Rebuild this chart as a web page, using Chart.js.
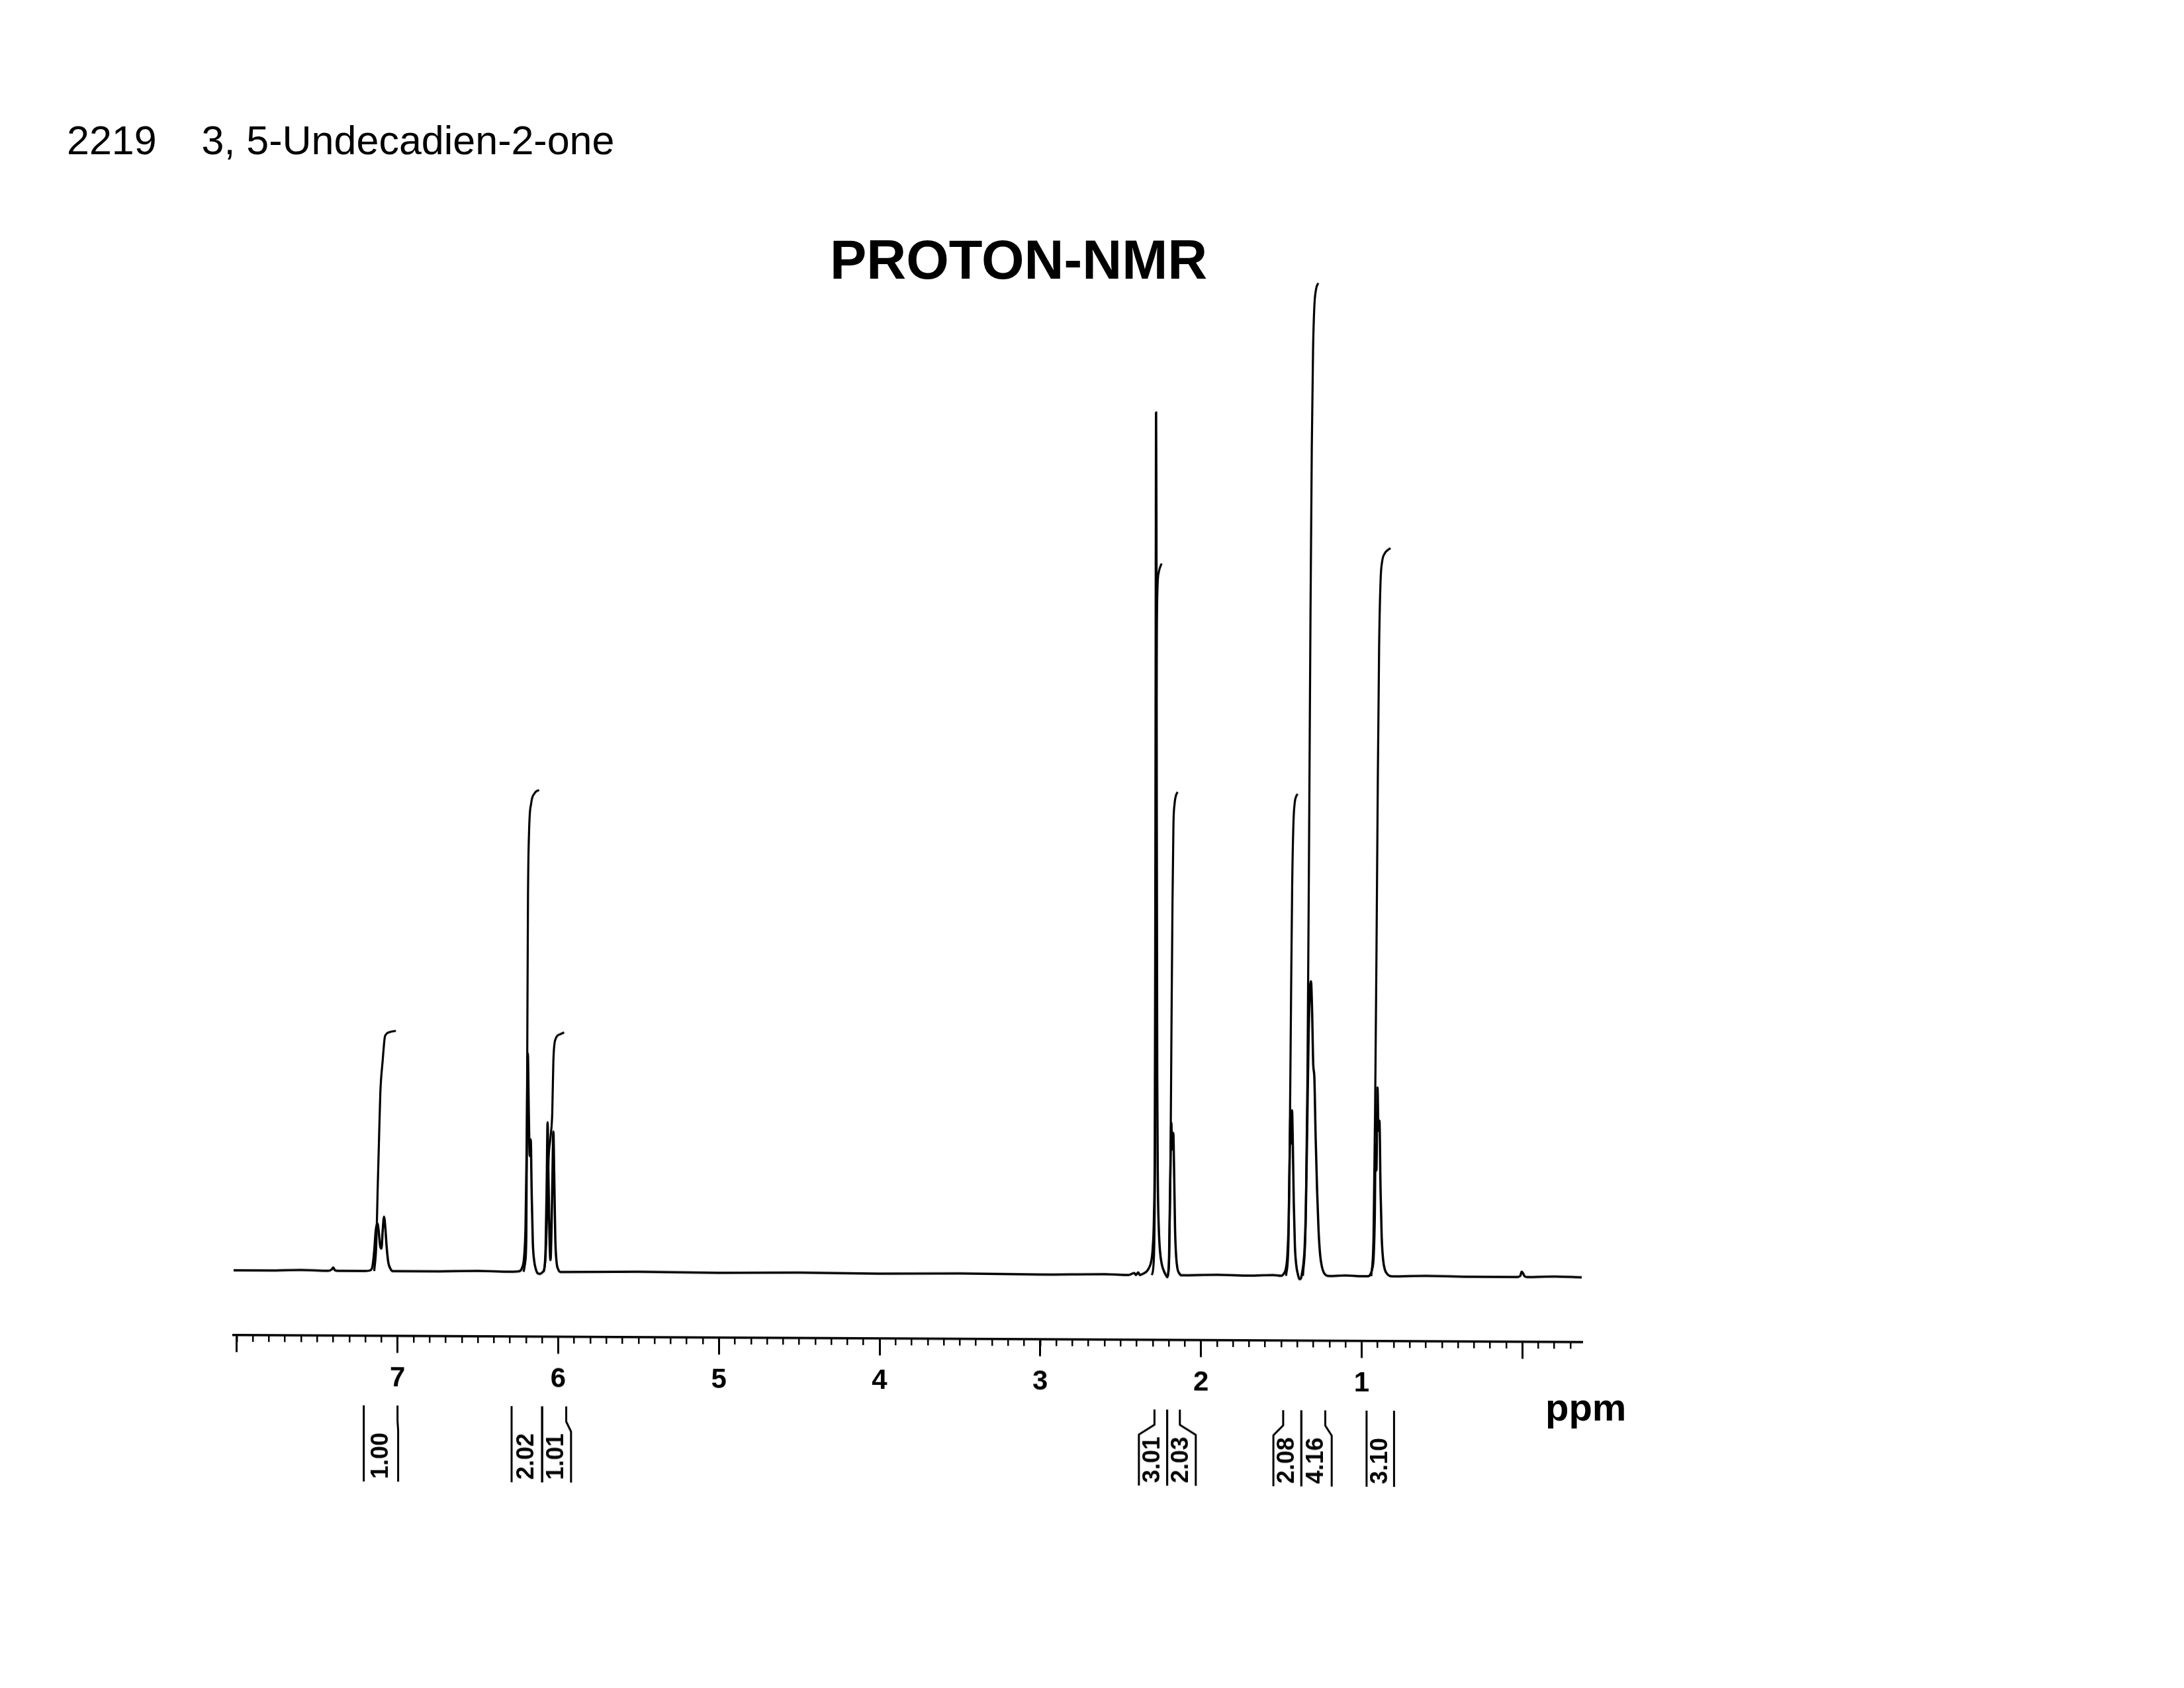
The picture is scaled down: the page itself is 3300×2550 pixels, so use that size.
<!DOCTYPE html>
<html>
<head>
<meta charset="utf-8">
<title>2219 3, 5-Undecadien-2-one - PROTON-NMR</title>
<script src="https://cdn.jsdelivr.net/npm/chart.js@4.4.1/dist/chart.umd.min.js"></script>
<style>
    html, body { margin: 0; padding: 0; background: #fff; }
    body { width: 3300px; height: 2550px; position: relative; overflow: hidden;
           font-family: "Liberation Sans", Arial, sans-serif; color: #000; }
    /* the plotted sheet drifts down ~10px from left to right, verticals stay vertical */
    #nmrChart { position: absolute; left: 0; top: 0;
                transform: skewY(0.3deg); transform-origin: 353px 1919px; }
    .header { position: absolute; left: 101px; top: 182px; font-size: 61px; line-height: 1; white-space: pre; }
    .title { position: absolute; left: 1254px; top: 351px; font-size: 83px; font-weight: bold; line-height: 1; }
    .unit { position: absolute; left: 2335px; top: 2097px; font-size: 58px; font-weight: bold; line-height: 1; }
</style>
</head>
<body>
<div class="header">2219    3, 5-Undecadien-2-one</div>
<div class="title">PROTON-NMR</div>
<div class="unit">ppm</div>
<canvas id="nmrChart" width="3300" height="2550"></canvas>
<script>
// Spectrum trace: chemical shift (ppm) and height above baseline
const specPpm = [
    8.02, 7.80, 7.60, 7.43, 7.41, 7.40, 7.39, 7.37, 7.20, 7.17,
    7.155, 7.145, 7.135, 7.125, 7.117, 7.108, 7.100, 7.092, 7.084, 7.076,
    7.068, 7.058, 7.045, 7.03, 6.80, 6.50, 6.30, 6.24, 6.225, 6.212,
    6.203, 6.196, 6.189, 6.183, 6.177, 6.171, 6.165, 6.158, 6.149, 6.139,
    6.128, 6.112, 6.096, 6.086, 6.078, 6.071, 6.066, 6.061, 6.054, 6.048,
    6.042, 6.036, 6.030, 6.025, 6.018, 6.010, 6.000, 5.985, 5.50, 5.00,
    4.50, 4.00, 3.50, 3.00, 2.60, 2.45, 2.415, 2.405, 2.39, 2.38,
    2.36, 2.34, 2.325, 2.31, 2.30, 2.292, 2.287, 2.284, 2.281, 2.279,
    2.277, 2.275, 2.272, 2.268, 2.262, 2.254, 2.243, 2.230, 2.218, 2.210,
    2.204, 2.198, 2.193, 2.188, 2.184, 2.180, 2.176, 2.172, 2.167, 2.161,
    2.154, 2.146, 2.135, 2.120, 1.90, 1.70, 1.55, 1.50, 1.485, 1.472,
    1.462, 1.454, 1.448, 1.443, 1.438, 1.433, 1.428, 1.422, 1.415, 1.406,
    1.396, 1.387, 1.378, 1.370, 1.362, 1.354, 1.346, 1.338, 1.330, 1.322,
    1.315, 1.308, 1.301, 1.294, 1.286, 1.277, 1.268, 1.258, 1.247, 1.235,
    1.220, 1.20, 1.10, 1.00, 0.96, 0.945, 0.935, 0.925, 0.918, 0.913,
    0.908, 0.901, 0.895, 0.889, 0.882, 0.875, 0.866, 0.855, 0.842, 0.828,
    0.81, 0.60, 0.30, 0.03, 0.012, 0.004, -0.004, -0.015, -0.03, -0.20,
    -0.37
];
const specInt = [
    0, 0, 1, 0, 2, 5, 1, 0, 0, 1,
    8, 30, 62, 72, 60, 38, 34, 62, 82, 66,
    38, 14, 4, 0, 0, 1, 0, 1, 6, 22,
    70, 190, 330, 240, 175, 200, 120, 45, 16, 4,
    -2, -3, 0, 5, 40, 140, 226, 150, 50, 18,
    60, 140, 212, 150, 50, 15, 4, 0, 1, 0,
    1, 0, 1, 0, 1, 0, 3, 0, 4, 0,
    2, 5, 10, 20, 40, 90, 200, 500, 1000, 1303,
    1150, 700, 300, 140, 70, 35, 16, 6, 0, -3,
    2, 30, 110, 190, 230, 190, 200, 215, 160, 70,
    28, 10, 3, 0, 1, 0, 1, 0, 3, 10,
    30, 80, 170, 240, 200, 250, 200, 110, 45, 15,
    2, -5, -4, 5, 18, 45, 110, 230, 360, 430,
    445, 400, 320, 300, 210, 130, 70, 32, 14, 5,
    1, 0, 1, 0, 0, 3, 10, 30, 90, 200,
    160, 285, 220, 235, 130, 60, 25, 10, 4, 1,
    0, 1, 0, 0, 2, 8, 6, 1, 0, 1,
    0
];

// Integral curves (ppm, height) for each multiplet
const integralPpm = [
    [7.145, 7.132, 7.124, 7.115, 7.107, 7.092, 7.080, 7.070, 7.050, 7.010],
    [6.215, 6.205, 6.198, 6.195, 6.192, 6.188, 6.181, 6.168, 6.147, 6.119],
    [6.090, 6.078, 6.069, 6.060, 6.047, 6.037, 6.030, 6.016, 5.990, 5.963],
    [2.305, 2.292, 2.285, 2.281, 2.278, 2.275, 2.270, 2.262, 2.253, 2.245],
    [2.205, 2.198, 2.190, 2.183, 2.177, 2.171, 2.164, 2.155, 2.145],
    [1.470, 1.455, 1.446, 1.439, 1.432, 1.424, 1.416, 1.406, 1.398],
    [1.365, 1.348, 1.337, 1.327, 1.318, 1.310, 1.302, 1.294, 1.284, 1.270],
    [0.940, 0.926, 0.916, 0.907, 0.899, 0.891, 0.882, 0.872, 0.856, 0.838, 0.820]
];
const integralHeight = [
    [0, 40, 119, 200, 269, 319, 352, 358, 361, 363],
    [0, 15, 55, 200, 361, 565, 667, 708, 723, 728],
    [0, 25, 90, 170, 205, 240, 319, 352, 359, 362],
    [0, 30, 200, 500, 800, 960, 1040, 1062, 1070, 1075],
    [0, 20, 150, 380, 560, 680, 712, 725, 730],
    [0, 50, 230, 420, 590, 685, 715, 725, 728],
    [0, 80, 300, 650, 1000, 1250, 1400, 1465, 1490, 1500],
    [0, 60, 250, 500, 750, 950, 1050, 1080, 1092, 1097, 1100]
];

// Integral values and their ranges (ppm) under the axis
const integralValues = ['1.00', '2.02', '1.01', '3.01', '2.03', '2.08', '4.16', '3.10'];
const integralStart = [7.21, 6.29, 6.10, 2.289, 2.21, 1.488, 1.375, 0.969];
const integralEnd = [7.00, 6.10, 5.95, 2.21, 2.131, 1.375, 1.226, 0.798];
const labelStart = [7.21, 6.29, 6.10, 2.386, 2.21, 1.549, 1.375, 0.969];
const labelEnd = [6.996, 6.10, 5.92, 2.21, 2.032, 1.375, 1.186, 0.798];

// Axis range
const ppmMin = -0.37;
const ppmMax = 8.02;
const axisLevel = -98;

const FONT = '"Liberation Sans", Arial, sans-serif';

// Brackets and rotated numbers for the integrals
const integralLabels = {
    id: 'integralLabels',
    afterDatasetsDraw(chart) {
        const ctx = chart.ctx;
        const xs = chart.scales.x;
        const ys = chart.scales.y;
        const axisY = ys.getPixelForValue(axisLevel);
        const top = axisY + 105, bendA = axisY + 128, bendB = axisY + 143;
        const bottom = axisY + 220, mid = axisY + 181;

        ctx.save();
        ctx.strokeStyle = '#000';
        ctx.lineWidth = 3;
        ctx.lineJoin = 'round';
        integralValues.forEach((label, i) => {
            [[integralStart[i], labelStart[i]], [integralEnd[i], labelEnd[i]]].forEach(([a, b]) => {
                const xa = xs.getPixelForValue(a);
                const xb = xs.getPixelForValue(b);
                ctx.beginPath();
                ctx.moveTo(xa, top);
                ctx.lineTo(xa, bendA);
                ctx.lineTo(xb, bendB);
                ctx.lineTo(xb, bottom);
                ctx.stroke();
            });
            const cx = (xs.getPixelForValue(labelStart[i]) + xs.getPixelForValue(labelEnd[i])) / 2;
            ctx.save();
            ctx.translate(cx, mid);
            ctx.rotate(-Math.PI / 2);
            ctx.font = 'bold 36px ' + FONT;
            ctx.textAlign = 'center';
            ctx.textBaseline = 'middle';
            ctx.fillStyle = '#000';
            ctx.fillText(label, 0, 0);
            ctx.restore();
        });
        ctx.restore();
    }
};

function lineSet(xs, ys, width) {
    return {
        data: xs.map((x, i) => ({ x: x, y: ys[i] })),
        xAxisID: 'x',
        yAxisID: 'y',
        borderColor: '#000',
        borderWidth: width,
        pointRadius: 0,
        fill: false,
        cubicInterpolationMode: 'monotone',
        clip: false
    };
}

document.addEventListener('DOMContentLoaded', function() {
    const datasets = [lineSet(specPpm, specInt, 3.5)];
    integralPpm.forEach((p, i) => datasets.push(lineSet(p, integralHeight[i], 3.2)));

    new Chart(document.getElementById('nmrChart').getContext('2d'), {
        type: 'line',
        data: { datasets: datasets },
        options: {
            responsive: false,
            animation: false,
            devicePixelRatio: 1,
            layout: { padding: { left: 353, right: 910, top: 319, bottom: 531 } },
            plugins: { legend: { display: false }, tooltip: { enabled: false } },
            scales: {
                y: { type: 'linear', min: -100, max: 1600, display: false },
                x: {
                    type: 'linear', axis: 'x', reverse: true,
                    min: ppmMin, max: ppmMax,
                    position: { y: axisLevel },
                    afterFit: s => { s.height = 0; },
                    ticks: {
                        stepSize: 1, autoSkip: false, includeBounds: false, maxRotation: 0,
                        padding: 15, color: '#000',
                        font: { family: FONT, size: 42, weight: 'bold' },
                        callback: v => (v >= 1 && v <= 7) ? String(v) : ''
                    },
                    grid: { drawOnChartArea: false, drawTicks: true, tickLength: 24, color: '#000', lineWidth: 3 },
                    border: { display: true, color: '#000', width: 3.5 }
                },
                xMinor: {
                    type: 'linear', axis: 'x', reverse: true,
                    min: ppmMin, max: ppmMax,
                    position: { y: axisLevel },
                    afterFit: s => { s.height = 0; },
                    ticks: { stepSize: 0.1, autoSkip: false, includeBounds: false, display: false },
                    grid: { drawOnChartArea: false, drawTicks: true, tickLength: 10, color: '#000', lineWidth: 2.5 },
                    border: { display: false }
                }
            }
        },
        plugins: [integralLabels]
    });
});
</script>
</body>
</html>
